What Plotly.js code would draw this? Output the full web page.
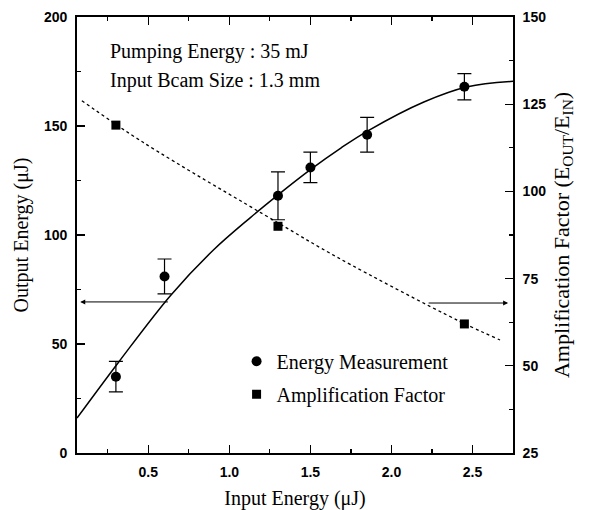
<!DOCTYPE html>
<html><head><meta charset="utf-8">
<script src="https://cdn.plot.ly/plotly-3.0.1.min.js"></script>
<style>html,body{margin:0;padding:0;background:#fff}</style>
</head><body><div id="chart" style="width:590px;height:510px"></div>
<script>
const measX = [0.3, 0.6, 1.3, 1.5, 1.85, 2.45];
const measY = [35, 81, 118, 131, 146, 168];
const measErr = [7, 8, 11, 7, 8, 6];
const ampX = [0.3, 1.3, 2.45];
const ampY = [119, 90, 62];
const fitOutX = [0.06, 0.32, 0.64, 0.9, 1.13, 1.31, 1.5, 1.69, 1.86, 2.2, 2.47, 2.75];
const fitOutY = [16, 42, 72.5, 93, 108, 119, 130, 140, 148, 161, 168, 170.5];
const fitAmpX = [0.09, 0.47, 1.3, 1.67, 2.41, 2.67];
const fitAmpY = [126, 114, 91, 81, 63, 57.4];
const xTickVals = [0.5, 1.0, 1.5, 2.0, 2.5];
const xTickText = ['0.5', '1.0', '1.5', '2.0', '2.5'];
const yTickVals = [0, 50, 100, 150, 200];
const y2TickVals = [25, 50, 75, 100, 125, 150];

const serif = 'Liberation Serif, Times New Roman, serif';
const sans = 'Liberation Sans, Arial, sans-serif';

const traces = [
  {x: measX, y: measY, type: 'scatter', mode: 'markers', name: 'Energy Measurement',
   legendgroup: 'a', marker: {symbol: 'circle', size: 10, color: '#000'},
   error_y: {type: 'data', array: measErr, visible: true, color: '#000', thickness: 1.2, width: 7}},
  {x: ampX, y: ampY, type: 'scatter', mode: 'markers', name: 'Amplification Factor',
   legendgroup: 'b', yaxis: 'y2', marker: {symbol: 'square', size: 9, color: '#000'}},
  {x: fitOutX, y: fitOutY, type: 'scatter', mode: 'lines', showlegend: false,
   line: {color: '#000', width: 1.5, shape: 'spline'}},
  {x: fitAmpX, y: fitAmpY, type: 'scatter', mode: 'lines', showlegend: false, yaxis: 'y2',
   line: {color: '#000', width: 1.3, dash: 'dot', shape: 'spline'}}
];

const axisCommon = {
  showgrid: false, zeroline: false, showline: true, linecolor: '#000', linewidth: 1.8,
  ticks: 'inside', ticklen: 8, tickwidth: 1.4, tickcolor: '#000', ticklabelstandoff: 5,
  tickfont: {family: sans, size: 14, color: '#000', weight: 'bold'}
};

const layout = {
  width: 590, height: 510,
  margin: {l: 77, r: 77, t: 17, b: 57},
  paper_bgcolor: '#fff', plot_bgcolor: '#fff',
  showlegend: true,
  legend: {x: 0.366, y: 0.255, xanchor: 'left', yanchor: 'top', bgcolor: 'rgba(0,0,0,0)',
           font: {family: serif, size: 20, color: '#000'}, traceorder: 'grouped', tracegroupgap: 4},
  xaxis: Object.assign({}, axisCommon, {
    range: [0.06, 2.75], tickvals: xTickVals, ticktext: xTickText, mirror: 'ticks',
    minor: {dtick: 0.25, tick0: 0, ticks: 'inside', ticklen: 4, tickcolor: '#000', tickwidth: 1.2},
    title: {text: 'Input Energy (\u03bcJ)', font: {family: serif, size: 20, color: '#000'}, standoff: 14}
  }),
  yaxis: Object.assign({}, axisCommon, {
    range: [0, 200], tickvals: yTickVals,
    minor: {dtick: 25, tick0: 0, ticks: 'inside', ticklen: 4, tickcolor: '#000', tickwidth: 1.2},
    title: {text: 'Output Energy (\u03bcJ)', font: {family: serif, size: 20, color: '#000'}, standoff: 10}
  }),
  yaxis2: Object.assign({}, axisCommon, {
    range: [25, 150], tickvals: y2TickVals, overlaying: 'y', side: 'right',
    minor: {dtick: 12.5, tick0: 25, ticks: 'inside', ticklen: 4, tickcolor: '#000', tickwidth: 1.2},
    title: {text: 'Amplification Factor (E<sub>OUT</sub>/E<sub>IN</sub>)', font: {family: serif, size: 22, color: '#000'}, standoff: 8}
  }),
  annotations: [
    {xref: 'paper', yref: 'paper', x: 0.071, y: 0.92, xanchor: 'left', yanchor: 'middle', showarrow: false,
     text: 'Pumping Energy : 35 mJ', font: {family: serif, size: 20, color: '#000'}},
    {xref: 'paper', yref: 'paper', x: 0.071, y: 0.855, xanchor: 'left', yanchor: 'middle', showarrow: false,
     text: 'Input Bcam Size : 1.3 mm', font: {family: serif, size: 20, color: '#000'}},
    {xref: 'x', yref: 'y', axref: 'x', ayref: 'y', x: 0.08, y: 69.3, ax: 0.63, ay: 69.3, text: '',
     showarrow: true, arrowhead: 2, arrowsize: 1, arrowwidth: 1, arrowcolor: '#000'},
    {xref: 'x', yref: 'y2', axref: 'x', ayref: 'y2', x: 2.72, y: 68, ax: 2.22, ay: 68, text: '',
     showarrow: true, arrowhead: 2, arrowsize: 1, arrowwidth: 1, arrowcolor: '#000'}
  ]
};

Plotly.newPlot('chart', traces, layout, {displayModeBar: false, staticPlot: true});
</script>
</body></html>
